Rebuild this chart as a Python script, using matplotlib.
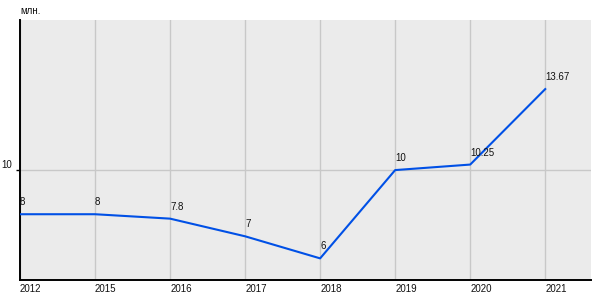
import matplotlib
matplotlib.use("Agg")
import matplotlib.pyplot as plt

plt.rcParams['font.family'] = ['Liberation Sans', 'DejaVu Sans']

years = ['2012', '2015', '2016', '2017', '2018', '2019', '2020', '2021']
values = [8, 8, 7.8, 7, 6, 10, 10.25, 13.67]
labels = ['8', '8', '7.8', '7', '6', '10', '10.25', '13.67']

fig = plt.figure(figsize=(6, 3), dpi=100)
ax = fig.add_axes([20 / 600, 20 / 300, 571 / 600, 260 / 300])
ax.set_facecolor('#ebebeb')

ax.plot(years, values, color='#0050e6', lw=1.5, zorder=3)
# value labels sit just above each point, starting at its x
for x, y, t in zip(years, values, labels):
    ax.annotate(t, (x, y), xytext=(0, 5), textcoords='offset points',
                ha='left', va='bottom', fontsize=7, color='#111111', zorder=4)

ax.set_xlim(0, 7.61)
ax.set_ylim(5.02, 16.8)
ax.set_yticks([10])
ax.grid(True, color='#c8c8c8', lw=1)
ax.set_axisbelow(True)

for s in ['top', 'right']:
    ax.spines[s].set_visible(False)
for s in ['left', 'bottom']:
    ax.spines[s].set_color('black')
    ax.spines[s].set_linewidth(1.4)

ax.tick_params(axis='x', length=0, pad=3, labelsize=7, colors='#111111')
ax.tick_params(axis='y', length=3, width=1, pad=2.5, labelsize=7,
               labelcolor='#111111')
for lbl in ax.get_xticklabels():
    lbl.set_ha('left')
for lbl in ax.get_yticklabels():
    lbl.set_va('bottom')

fig.text(20 / 600, 1 - 16 / 300, 'млн.', fontsize=7, color='#111111',
         ha='left', va='bottom')

fig.savefig('out.png', dpi=100)
